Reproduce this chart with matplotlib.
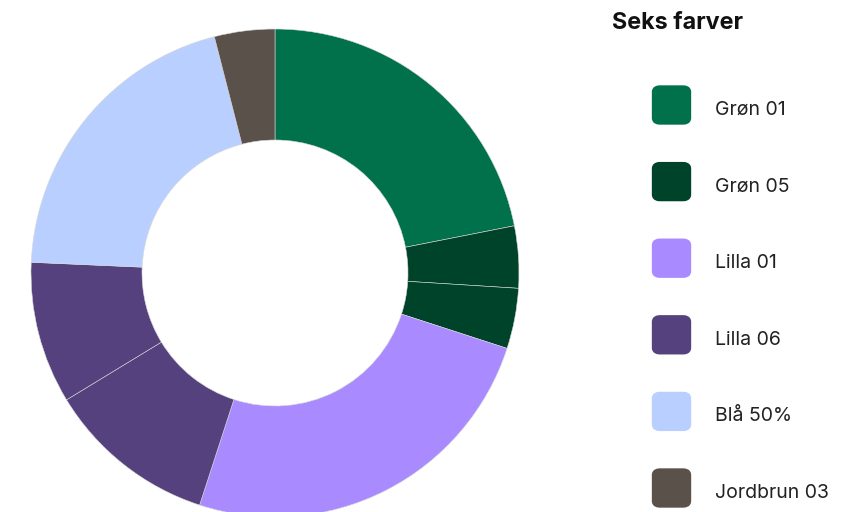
import matplotlib
matplotlib.use("Agg")
import matplotlib.pyplot as plt
from matplotlib.patches import FancyBboxPatch

# slice shares in percent, clockwise from 12 o'clock
slice_values = [21.9, 4.1, 4.0, 25.0, 11.3, 9.4, 20.3, 4.0]
slice_colors = ["#00714A", "#00432B", "#00432B", "#A98BFF",
                "#54417E", "#54417E", "#B8CFFF", "#5A514A"]

legend_title = "Seks farver"
legend_labels = ["Grøn 01", "Grøn 05", "Lilla 01", "Lilla 06", "Blå 50%", "Jordbrun 03"]
legend_colors = ["#00714A", "#00432B", "#A98BFF", "#54417E", "#B8CFFF", "#5A514A"]

W, H = 855, 512
fig = plt.figure(figsize=(W / 100, H / 100), dpi=100)

# donut, centre (275, 273) px, outer radius 244 px
cx, cy, r = 275, 273, 244
ax = fig.add_axes([(cx - r) / W, (H - cy - r) / H, 2 * r / W, 2 * r / H])
ax.pie(slice_values, colors=slice_colors, startangle=90, counterclock=False,
       radius=1.0, wedgeprops=dict(width=1 - 133 / 244, edgecolor="#d8d8d8",
                                   linewidth=0.4))
ax.set_xlim(-1, 1)
ax.set_ylim(-1, 1)
ax.set_aspect("equal")
ax.axis("off")

FONT = ["Inter", "DejaVu Sans"]

fig.text(612 / W, 1 - 23 / H, legend_title, fontsize=16.8, fontweight="bold",
         family=FONT, color="#111111", ha="left", va="center")

row0, step, sq = 105, 76.6, 37
for i, (lab, col) in enumerate(zip(legend_labels, legend_colors)):
    yc = row0 + i * step
    box = FancyBboxPatch(((653 + 3) / W, 1 - (yc + sq / 2 - 3) / H),
                         (sq - 6) / W, (sq - 6) / H,
                         boxstyle="round,pad=0,rounding_size=0.0045",
                         transform=fig.transFigure, fc=col, ec=col, lw=6,
                         joinstyle="round")
    fig.add_artist(box)
    fig.text(715 / W, 1 - (yc + 5) / H, lab, fontsize=14, family=FONT,
             color="#222222", ha="left", va="center")

fig.savefig("out.png", facecolor="white")
